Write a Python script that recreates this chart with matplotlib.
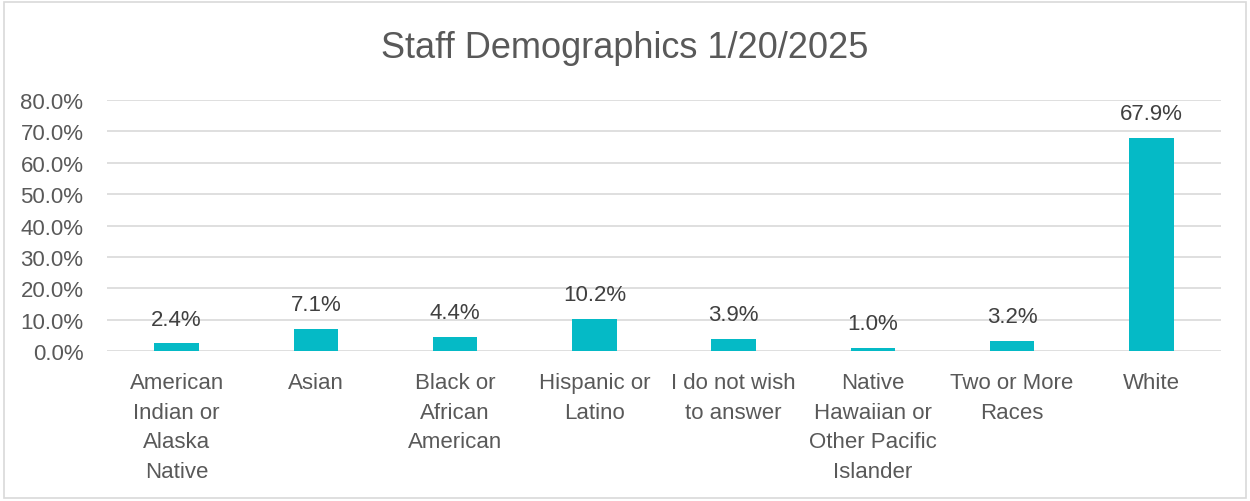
import matplotlib
matplotlib.use("Agg")
import matplotlib.pyplot as plt
from matplotlib.patches import Rectangle
from matplotlib.ticker import FuncFormatter, MultipleLocator

categories = ["American\nIndian or\nAlaska\nNative", "Asian", "Black or\nAfrican\nAmerican",
              "Hispanic or\nLatino", "I do not wish\nto answer", "Native\nHawaiian or\nOther Pacific\nIslander",
              "Two or More\nRaces", "White"]
values = [0.024, 0.071, 0.044, 0.102, 0.039, 0.010, 0.032, 0.679]
labels = ["2.4%", "7.1%", "4.4%", "10.2%", "3.9%", "1.0%", "3.2%", "67.9%"]

plt.rcParams['font.family'] = ['Liberation Sans', 'DejaVu Sans']

fig = plt.figure(figsize=(12.5, 5.02), dpi=100)
ax = fig.add_axes([0.0856, 0.2988, 0.8912, 0.5])

x = range(len(categories))
bars = ax.bar(x, values, width=0.32, color="#05BAC6", zorder=3)
for xi, v, lab in zip(x, values, labels):
    ax.annotate(lab, (xi, v), xytext=(0, 10), textcoords="offset points",
                ha="center", va="bottom", fontsize=16, color="#404040")

ax.set_xlim(-0.5, len(categories) - 0.5)
ax.set_ylim(0, 0.8)
ax.yaxis.set_major_locator(MultipleLocator(0.1))
ax.yaxis.set_major_formatter(FuncFormatter(lambda v, p: f"{v*100:.1f}%"))
ax.grid(axis="y", color="#D9D9D9", linewidth=1.2, zorder=0)
for s in ax.spines.values():
    s.set_visible(False)
ax.tick_params(axis="both", length=0, labelsize=16, labelcolor="#595959")
ax.tick_params(axis="y", pad=17)
ax.tick_params(axis="x", pad=15)
ax.set_xticks(list(x))
ax.set_xticklabels(categories, linespacing=1.55)

fig.text(0.5, 0.903, "Staff Demographics 1/20/2025", ha="center", va="center",
         fontsize=26, color="#595959")

fig.patches.append(Rectangle((0.003, 0.006), 0.994, 0.988, transform=fig.transFigure,
                             fill=False, edgecolor="#D9D9D9", linewidth=1.2))

fig.savefig("out.png", dpi=100)
